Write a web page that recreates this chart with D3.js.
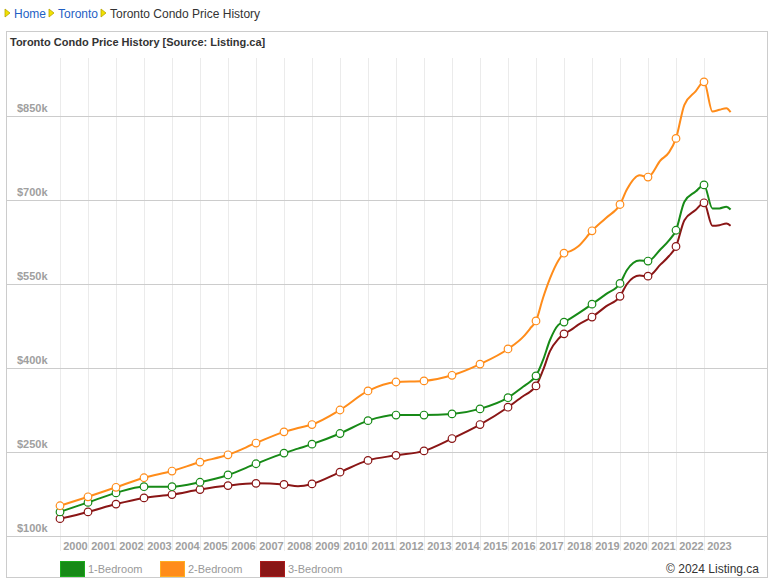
<!DOCTYPE html>
<html>
<head>
<meta charset="utf-8">
<script src="https://cdn.jsdelivr.net/npm/d3@7"></script>
<style>
  body { margin: 0; background: #fff; font-family: "Liberation Sans", Arial, sans-serif; }
  svg { display: block; }
</style>
</head>
<body>
<div id="chart"></div>
<script>
// sample dates (decimal years); markers are drawn on whole years
const dates = [2000, 2001, 2002, 2003, 2004, 2005, 2006, 2007, 2008, 2008.5,
  2009, 2010, 2011, 2012, 2013, 2014, 2015, 2016, 2016.55, 2016.8,
  2017, 2017.25, 2017.5, 2017.8, 2018, 2018.25, 2018.5, 2019, 2019.5, 2020,
  2020.25, 2020.7, 2021, 2021.45, 2021.75, 2022, 2022.3, 2022.7, 2023,
  2023.3, 2023.55, 2023.8, 2023.95];

// prices in $k
const oneBed = [143, 160, 177, 188, 188, 196, 209, 229, 248, 256,
  264, 283, 306, 316, 316, 318, 327, 347, 367, 376,
  386, 414, 450, 477, 482, 489, 497, 514, 532, 551,
  575, 592, 591, 612, 628, 646, 697, 715, 727,
  685, 685, 688, 683];
const twoBed = [154, 170, 187, 204, 216, 232, 245, 266, 286, 293,
  299, 325, 359, 375, 377, 387, 407, 434, 456, 471,
  484, 525, 560, 592, 605, 609, 617, 645, 668, 692,
  719, 744, 741, 771, 785, 810, 870, 894, 911,
  858, 861, 864, 857];
const threeBed = [131, 143, 157, 168, 174, 183, 190, 194, 192, 189,
  193, 214, 235, 244, 252, 274, 299, 330, 350, 358,
  368, 396, 430, 452, 461, 468, 477, 491, 510, 528,
  550, 565, 564, 585, 600, 617, 664, 682, 695,
  654, 655, 658, 654];

const seriesNames = ['1-Bedroom', '2-Bedroom', '3-Bedroom'];
const seriesColors = ['#178a17', '#ff8c1a', '#8a1616'];
const yTicks = [100, 250, 400, 550, 700, 850];
const xYears = d3.range(2000, 2024);

const W = 772, H = 581;
const svg = d3.select('#chart').append('svg')
  .attr('width', W)
  .attr('height', H);

// breadcrumb
const crumbs = [
  { text: 'Home', x: 14, color: '#1f5fc4' },
  { text: 'Toronto', x: 58, color: '#1f5fc4' },
  { text: 'Toronto Condo Price History', x: 110, color: '#333' }
];
crumbs.forEach(function(c) {
  svg.append('path')
    .attr('d', `M${c.x - 9},9 L${c.x - 4},13 L${c.x - 9},17 Z`)
    .attr('fill', '#f2e200')
    .attr('stroke', '#b8a400')
    .attr('stroke-width', 0.8);
  svg.append('text')
    .attr('x', c.x)
    .attr('y', 18)
    .attr('font-size', '12px')
    .attr('fill', c.color)
    .text(c.text);
});

// chart box
svg.append('rect')
  .attr('x', 6.5).attr('y', 31.5)
  .attr('width', 761).attr('height', 546)
  .attr('fill', '#fff')
  .attr('stroke', '#ccc');

svg.append('text')
  .attr('x', 10)
  .attr('y', 46)
  .attr('font-size', '11px')
  .attr('font-weight', 'bold')
  .attr('fill', '#333')
  .text('Toronto Condo Price History [Source: Listing.ca]');

const x = d3.scaleLinear().domain([2000, 2023]).range([60, 704]);
const y = d3.scaleLinear().domain([100, 850]).range([536, 116]);

// vertical grid
svg.append('g')
  .selectAll('line')
  .data(xYears)
  .join('line')
  .attr('x1', d => Math.round(x(d)) + 0.5)
  .attr('x2', d => Math.round(x(d)) + 0.5)
  .attr('y1', 58)
  .attr('y2', 551)
  .attr('stroke', '#ebebeb');

// horizontal grid + labels
const yAxis = svg.append('g');
yAxis.selectAll('line')
  .data(yTicks)
  .join('line')
  .attr('x1', 7)
  .attr('x2', 767)
  .attr('y1', d => Math.round(y(d)) + 0.5)
  .attr('y2', d => Math.round(y(d)) + 0.5)
  .attr('stroke', '#ccc');
yAxis.selectAll('text')
  .data(yTicks)
  .join('text')
  .attr('x', 17)
  .attr('y', d => y(d) - 4)
  .attr('font-size', '11px')
  .attr('font-weight', 'bold')
  .attr('fill', '#a0a0a0')
  .text(d => '$' + d + 'k');

// x labels
svg.append('g')
  .selectAll('text')
  .data(xYears)
  .join('text')
  .attr('x', d => x(d + 0.5) + 1.5)
  .attr('y', 550)
  .attr('text-anchor', 'middle')
  .attr('font-size', '11px')
  .attr('font-weight', 'bold')
  .attr('fill', '#a0a0a0')
  .text(d => d);

// lines
const allSeries = [oneBed, twoBed, threeBed];
const line = d3.line()
  .x((d, i) => x(dates[i]))
  .y(d => y(d))
  .curve(d3.curveMonotoneX);

// draw 3-bed first, then 1-bed, then 2-bed on top
[2, 0, 1].forEach(function(s) {
  const vals = allSeries[s];
  svg.append('path')
    .datum(vals)
    .attr('fill', 'none')
    .attr('stroke', seriesColors[s])
    .attr('stroke-width', 2)
    .attr('stroke-linejoin', 'round')
    .attr('d', line);

  const pts = vals
    .map((v, i) => ({ t: dates[i], v: v }))
    .filter(p => Number.isInteger(p.t));
  svg.append('g')
    .selectAll('circle')
    .data(pts)
    .join('circle')
    .attr('cx', p => x(p.t))
    .attr('cy', p => y(p.v))
    .attr('r', 3.8)
    .attr('fill', '#fff')
    .attr('stroke', seriesColors[s])
    .attr('stroke-width', 1.2);
});

// legend
const legendX = [60, 160, 260];
seriesNames.forEach(function(name, i) {
  svg.append('rect')
    .attr('x', legendX[i] + 0.5)
    .attr('y', 561.5)
    .attr('width', 24)
    .attr('height', 15)
    .attr('fill', seriesColors[i])
    .attr('stroke', d3.color(seriesColors[i]).brighter(0.6))
    .attr('stroke-width', 1);
  svg.append('text')
    .attr('x', legendX[i] + 28)
    .attr('y', 573)
    .attr('font-size', '11px')
    .attr('fill', '#999')
    .text(name);
});

svg.append('text')
  .attr('x', 759)
  .attr('y', 573)
  .attr('text-anchor', 'end')
  .attr('font-size', '12px')
  .attr('fill', '#333')
  .text('\u00a9 2024 Listing.ca');
</script>
</body>
</html>
